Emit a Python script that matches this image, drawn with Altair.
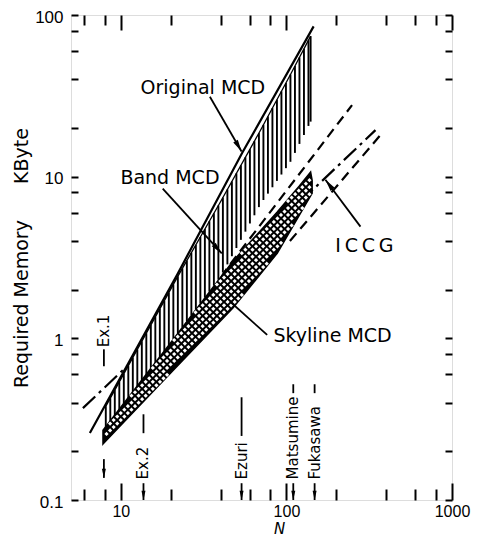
import altair as alt
import numpy as np
import pandas as pd

FONT = "DejaVu Sans"
NUMFONT = "Liberation Sans"

# ---------------- values ----------------
x_major = [10, 100, 1000]
x_minor = [6, 8, 20, 40, 60, 80, 200, 400, 600, 800]
y_ticks = [0.1, 0.2, 0.4, 0.6, 0.8, 1, 2, 4, 6, 8, 10, 20, 40, 60, 80, 100]

# Original MCD (solid line)
orig_N = [6.5, 22, 54, 146]
orig_y = [0.26, 2.5, 14, 85]

# Band MCD range (vertical hatching)
band_N = [8, 22, 40, 70, 106, 140]
band_hi = [0.37, 2.4, 7.0, 19.5, 43, 74]
band_lo = [0.27, 1.07, 2.4, 6.8, 12.4, 21.9]

# Band MCD extrapolation (dashed)
bandx_N = [40, 249]
bandx_y = [2.4, 27.7]

# Skyline MCD range (cross hatching)
sky_N = [7.8, 20, 47.5, 88, 120, 140, 143]
sky_hi = [0.27, 0.94, 3.0, 6.05, 8.8, 10.7, 9.5]
sky_lo = [0.222, 0.61, 1.54, 3.36, 5.8, 7.6, 7.9]

# Skyline extrapolation (dashed)
skyx_N = [105, 370]
skyx_y = [4.0, 18.1]

# ICCG (dash-dot)
iccg_N = [5.9, 345]
iccg_y = [0.37, 19.4]

# labels and pointers
lab_text = ["Original MCD", "Band MCD", "I\u2009C\u2009C\u2009G", "Skyline MCD"]
lab_N = [31.3, 19.8, 296, 190]
lab_y = [35.4, 9.86, 3.70, 1.03]

ptr_N1 = [34.5, 17.9, 280, 76.5]
ptr_y1 = [31.2, 8.43, 4.91, 1.05]
ptr_N2 = [53.6, 40.7, 172, 45.6]
ptr_y2 = [14.3, 3.35, 9.58, 1.69]
ptr_head_angle = [150, 138, 323]

# examples marked on the N axis
ex_name = ["Ex.1", "Ex.2", "Ezuri", "Matsumine", "Fukasawa"]
ex_N = [7.9, 13.7, 53.6, 110, 148]
ex_text_y = [0.88, 0.134, 0.134, 0.134, 0.134]
ex_dash_lo = [0.672, 0.259, 0.249, 0.458, 0.458]
ex_dash_hi = [0.855, 0.339, 0.432, 0.52, 0.52]
ex_arrow_top = [0.179, 0.127, 0.127, 0.127, 0.127]
ex_arrow_tip = [0.137, 0.1, 0.1, 0.1, 0.1]

# ---------------- tables ----------------
def line_df(N, y):
    return pd.DataFrame({"N": N, "y": y})

band_df = pd.DataFrame({"N": band_N, "lo": band_lo, "hi": band_hi})
sky_df = pd.DataFrame({"N": sky_N, "lo": sky_lo, "hi": sky_hi})

# hatching texture (style only): vertical strokes inside the band range
def logi(x, xp, fp):
    return 10 ** np.interp(np.log10(x), np.log10(xp), np.log10(fp))

hN = list(10 ** np.arange(np.log10(band_N[0]) + 0.006, np.log10(band_N[-1]) - 0.01, 0.0272)) + [band_N[-1]]
hN = np.array(hN)
hatch_df = pd.DataFrame({"N": hN, "lo": logi(hN, band_N, band_lo), "hi": logi(hN, band_N, band_hi)})

# cross-hatch texture: white diamonds on a black fill
a = 0.0215
pts = []
u0, u1 = np.log10(sky_N[0]), np.log10(sky_N[-1])
for i in range(int((u1 - u0) / a) + 2):
    u = u0 + i * a
    if u < u0 + 0.012 or u > u1 - 0.012:
        continue
    lo = np.interp(u, np.log10(sky_N), np.log10(sky_lo))
    hi = np.interp(u, np.log10(sky_N), np.log10(sky_hi))
    for j in range(-60, 200):
        if (i + j) % 2:
            continue
        v = -1.0 + j * a
        if lo + 0.011 < v < hi - 0.011:
            pts.append((10 ** u, 10 ** v))
holes_df = pd.DataFrame(pts, columns=["N", "y"])

ptr_df = pd.DataFrame({"N": ptr_N1, "y": ptr_y1, "N2": ptr_N2, "y2": ptr_y2})
head_df = pd.DataFrame({"N": ptr_N2[:3], "y": ptr_y2[:3], "ang": ptr_head_angle})
lab_df = pd.DataFrame({"N": lab_N, "y": lab_y, "t": lab_text})
ex_df = pd.DataFrame({"N": ex_N, "t": ex_name, "ty": ex_text_y, "dlo": ex_dash_lo, "dhi": ex_dash_hi,
                      "atop": ex_arrow_top, "atip": ex_arrow_tip})

# ---------------- scales & axes ----------------
XS = alt.Scale(type="log", domain=[5, 1000], nice=False)
YS = alt.Scale(type="log", domain=[0.1, 100], nice=False)

def X(f, axis=None):
    return alt.X(f, type="quantitative", scale=XS, axis=axis)

def Y(f, axis=None):
    return alt.Y(f, type="quantitative", scale=YS, axis=axis)

tk = dict(domain=False, grid=False, ticks=True, tickColor="black", tickWidth=2, zindex=1)

ax_bottom_major = alt.Axis(orient="bottom", values=x_major, tickSize=17, offset=-17,
                           labelFont=NUMFONT, labelFontSize=16, labelColor="black", labelPadding=3,
                           labelFlush=False, labelOverlap=False, format="~g",
                           title="N", titleFont=FONT, titleFontSize=15, titleFontStyle="italic",
                           titleFontWeight="normal", titleColor="black", titleX=208, titlePadding=2,
                           titleLineHeight=15, **tk)
ax_bottom_minor = alt.Axis(orient="bottom", values=x_minor, tickSize=11, offset=-11,
                           labels=False, title=None, **tk)
ax_top_major = alt.Axis(orient="top", values=x_major, tickSize=15, offset=-15,
                        labels=False, title=None, **tk)
ax_top_minor = alt.Axis(orient="top", values=x_minor, tickSize=10, offset=-10,
                        labels=False, title=None, **tk)
ax_left = alt.Axis(orient="left", values=y_ticks, tickSize=7, offset=-7,
                   labelExpr="indexof([0.1, 1, 10, 100], datum.value) >= 0 ? datum.label : ''",
                   format="~g", labelFont=NUMFONT, labelFontSize=17, labelColor="black",
                   labelPadding=8, labelOverlap=False, labelFlush=False, labelOffset=2,
                   title="Required Memory" + "\u00a0" * 6 + "KByte", titleFont=FONT,
                   titleFontSize=19, titleFontWeight="normal", titleColor="black",
                   titlePadding=3, **tk)
ax_right = alt.Axis(orient="right", values=y_ticks, tickSize=7, offset=-7,
                    labels=False, title=None, **tk)

LW = 2.2

iccg = alt.Chart(line_df(iccg_N, iccg_y)).mark_line(
    color="black", strokeWidth=LW, strokeDash=[17, 5, 3, 5]
).encode(x=X("N", ax_bottom_major), y=Y("y", ax_left))

bandx = alt.Chart(line_df(bandx_N, bandx_y)).mark_line(
    color="black", strokeWidth=LW, strokeDash=[10, 6]
).encode(x=X("N", ax_bottom_minor), y=Y("y", ax_right))

skyx = alt.Chart(line_df(skyx_N, skyx_y)).mark_line(
    color="black", strokeWidth=LW, strokeDash=[10, 6]
).encode(x=X("N", ax_top_major), y=Y("y"))

band_fill = alt.Chart(band_df).mark_area(color="white", opacity=1).encode(
    x=X("N", ax_top_minor), y=Y("lo"), y2="hi")

hatch = alt.Chart(hatch_df).mark_rule(color="black", strokeWidth=1.9).encode(
    x=X("N"), y=Y("lo"), y2="hi")

band_top = alt.Chart(band_df).mark_line(color="black", strokeWidth=1.3).encode(
    x=X("N"), y=Y("hi"))

sky_fill = alt.Chart(sky_df).mark_area(fill="black", stroke="black", strokeWidth=1.5, opacity=1).encode(
    x=X("N"), y=Y("lo"), y2="hi")

holes = alt.Chart(holes_df).mark_point(shape="diamond", filled=True, color="white", size=18, opacity=1).encode(
    x=X("N"), y=Y("y"))

orig = alt.Chart(line_df(orig_N, orig_y)).mark_line(color="black", strokeWidth=LW).encode(
    x=X("N"), y=Y("y"))

ptrs = alt.Chart(ptr_df).mark_rule(color="black", strokeWidth=1.8).encode(
    x=X("N"), y=Y("y"), x2="N2", y2="y2")

HEAD = "M0,0L-0.5,2.3L0.5,2.3Z"
heads = alt.Chart(head_df).mark_point(shape=HEAD, filled=True, color="black", size=110, opacity=1,
                                      strokeWidth=0).encode(
    x=X("N"), y=Y("y"), angle=alt.Angle("ang:Q", scale=None))

labels = alt.Chart(lab_df).mark_text(font=FONT, fontSize=19, color="black", align="center", baseline="middle").encode(
    x=X("N"), y=Y("y"), text="t:N")

ex_text = alt.Chart(ex_df).mark_text(font=FONT, fontSize=15, color="black", angle=270, align="left", baseline="middle").encode(
    x=X("N"), y=Y("ty"), text="t:N")

ex_dash = alt.Chart(ex_df).mark_rule(color="black", strokeWidth=1.8).encode(
    x=X("N"), y=Y("dlo"), y2="dhi")

ex_arrow = alt.Chart(ex_df).mark_rule(color="black", strokeWidth=1.8).encode(
    x=X("N"), y=Y("atop"), y2="atip")

ex_head = alt.Chart(ex_df).mark_point(shape=HEAD, filled=True, color="black", size=64, opacity=1,
                                      strokeWidth=0, angle=180).encode(
    x=X("N"), y=Y("atip"))

chart = alt.layer(
    iccg, bandx, skyx, band_fill, hatch, band_top, sky_fill, holes, orig,
    ptrs, heads, labels, ex_text, ex_dash, ex_arrow, ex_head
).resolve_axis(x="independent", y="independent").properties(
    width=381, height=485,
    autosize=alt.AutoSizeParams(type="none"),
    padding={"left": 63, "top": 7, "right": 19, "bottom": 37},
).configure_view(stroke="black", strokeWidth=2).configure(background="white")

chart.save("out.html", embed_options={"renderer": "svg", "actions": False})
